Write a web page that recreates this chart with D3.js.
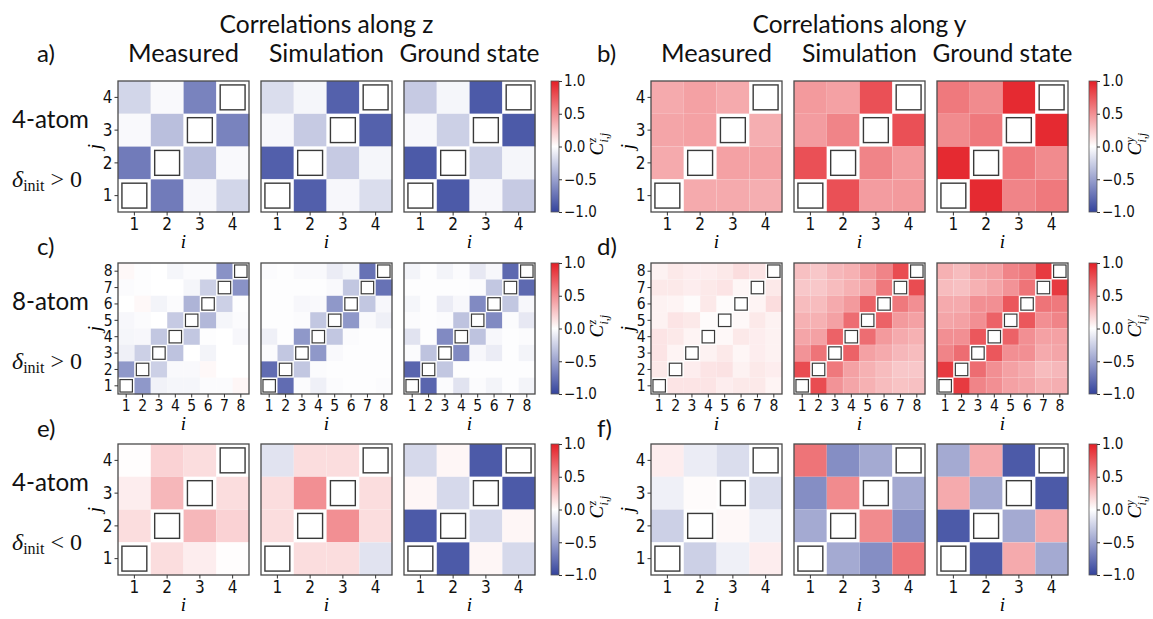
<!DOCTYPE html>
<html><head><meta charset="utf-8">
<script src="https://cdn.jsdelivr.net/npm/d3@7"></script>
<style>
body{margin:0;background:#fff;}
svg{display:block;}
</style></head>
<body>
<svg id="chart" width="1153" height="619"></svg>
<script>
// ---------------- DATA (rows listed from top j=N down to bottom j=1; columns i=1..N; null = diagonal) ----------------
const atomTicks4 = [1,2,3,4];
const atomTicks8 = [1,2,3,4,5,6,7,8];
const cbarTicks = [-1.0,-0.5,0.0,0.5,1.0];
const columnTitles = ["Measured","Simulation","Ground state"];
const groupTitles = ["Correlations along z","Correlations along y"];
const panelLetters = ["a)","b)","c)","d)","e)","f)"];
const rowLabels = ["4-atom","8-atom","4-atom"];
const deltaSigns = [">",">","<"];

// a) z, 4-atom, delta>0
const aMeasured = [
  [-0.22,-0.03,-0.66,null],
  [-0.03,-0.34,null,-0.66],
  [-0.70,null,-0.34,-0.03],
  [null,-0.70,-0.04,-0.22]];
const aSimulation = [
  [-0.18,-0.05,-0.84,null],
  [-0.04,-0.28,null,-0.84],
  [-0.85,null,-0.28,-0.05],
  [null,-0.85,-0.04,-0.18]];
const aGround = [
  [-0.28,-0.05,-0.88,null],
  [-0.04,-0.25,null,-0.88],
  [-0.88,null,-0.25,-0.05],
  [null,-0.88,-0.04,-0.28]];
// b) y, 4-atom, delta>0
const bMeasured = [
  [0.38,0.42,0.38,null],
  [0.40,0.42,null,0.36],
  [0.38,null,0.42,0.42],
  [null,0.38,0.38,0.36]];
const bSimulation = [
  [0.45,0.42,0.78,null],
  [0.44,0.55,null,0.78],
  [0.78,null,0.55,0.45],
  [null,0.78,0.44,0.45]];
const bGround = [
  [0.60,0.52,0.95,null],
  [0.52,0.60,null,0.95],
  [0.95,null,0.60,0.52],
  [null,0.95,0.55,0.60]];
// c) z, 8-atom, delta>0
const cMeasured = [
  [0.03,-0.01,0.00,-0.05,-0.02,-0.02,-0.58,null],
  [-0.02,-0.01,0.00,0.00,-0.05,-0.25,null,-0.58],
  [0.00,0.03,-0.06,-0.02,-0.40,null,-0.25,-0.01],
  [-0.04,-0.02,0.00,-0.28,null,-0.38,-0.05,-0.02],
  [-0.05,-0.04,-0.30,null,-0.30,-0.01,0.00,-0.04],
  [-0.08,-0.25,null,-0.32,0.00,-0.06,0.00,0.00],
  [-0.55,null,-0.25,-0.03,-0.03,0.03,0.00,0.00],
  [null,-0.55,-0.07,-0.05,-0.05,-0.02,-0.02,0.04]];
const cSimulation = [
  [-0.02,-0.01,-0.03,-0.03,-0.10,-0.05,-0.75,null],
  [-0.01,-0.01,-0.01,-0.01,-0.03,-0.30,null,-0.75],
  [-0.01,-0.01,-0.04,-0.03,-0.55,null,-0.30,-0.04],
  [-0.01,-0.01,-0.02,-0.30,null,-0.55,-0.03,-0.08],
  [-0.08,-0.01,-0.55,null,-0.30,-0.02,-0.01,-0.01],
  [-0.02,-0.30,null,-0.55,-0.03,-0.01,-0.01,-0.01],
  [-0.78,null,-0.30,-0.02,-0.01,-0.01,-0.01,-0.01],
  [null,-0.78,-0.02,-0.08,-0.02,-0.01,-0.01,-0.02]];
const cGround = [
  [-0.06,-0.01,-0.06,-0.02,-0.12,-0.04,-0.80,null],
  [-0.01,-0.01,-0.01,-0.01,-0.02,-0.30,null,-0.80],
  [-0.05,-0.01,-0.10,-0.04,-0.62,null,-0.30,-0.04],
  [-0.02,-0.01,-0.02,-0.32,null,-0.62,-0.02,-0.12],
  [-0.15,-0.01,-0.62,null,-0.32,-0.04,-0.01,-0.02],
  [-0.02,-0.32,null,-0.62,-0.04,-0.10,-0.01,-0.06],
  [-0.82,null,-0.30,-0.01,-0.01,-0.01,-0.01,-0.01],
  [null,-0.82,-0.02,-0.15,-0.02,-0.06,-0.01,-0.06]];
// d) y, 8-atom, delta>0
const dMeasured = [
  [0.06,0.10,0.08,0.08,0.10,0.15,0.12,null],
  [0.10,0.10,0.08,0.10,0.12,0.04,null,0.10],
  [0.06,0.05,0.02,0.10,0.02,null,0.05,0.15],
  [0.06,0.12,0.10,0.02,null,0.03,0.10,0.06],
  [0.12,0.10,0.05,null,0.03,0.10,0.08,0.06],
  [0.12,0.05,null,0.06,0.10,0.04,0.08,0.06],
  [0.10,null,0.08,0.12,0.13,0.06,0.10,0.08],
  [null,0.12,0.12,0.12,0.08,0.10,0.10,0.05]];
const dSimulation = [
  [0.28,0.25,0.32,0.35,0.45,0.55,0.80,null],
  [0.25,0.25,0.30,0.35,0.40,0.60,null,0.80],
  [0.30,0.30,0.38,0.45,0.70,null,0.60,0.50],
  [0.35,0.35,0.42,0.65,null,0.70,0.45,0.42],
  [0.40,0.42,0.70,null,0.65,0.45,0.38,0.35],
  [0.48,0.62,null,0.70,0.42,0.38,0.32,0.30],
  [0.80,null,0.60,0.42,0.35,0.30,0.25,0.25],
  [null,0.80,0.48,0.40,0.35,0.30,0.27,0.28]];
const dGround = [
  [0.35,0.30,0.40,0.42,0.55,0.60,0.88,null],
  [0.30,0.28,0.35,0.40,0.48,0.62,null,0.88],
  [0.38,0.38,0.50,0.50,0.75,null,0.62,0.60],
  [0.40,0.42,0.50,0.70,null,0.75,0.50,0.55],
  [0.50,0.50,0.75,null,0.70,0.50,0.42,0.42],
  [0.55,0.65,null,0.75,0.50,0.50,0.38,0.40],
  [0.88,null,0.65,0.50,0.42,0.38,0.30,0.32],
  [null,0.88,0.55,0.50,0.42,0.40,0.35,0.36]];
// e) z, 4-atom, delta<0
const eMeasured = [
  [0.01,0.20,0.15,null],
  [0.08,0.32,null,0.15],
  [0.15,null,0.32,0.20],
  [null,0.15,0.08,0.01]];
const eSimulation = [
  [-0.15,0.15,0.15,null],
  [0.15,0.50,null,0.15],
  [0.15,null,0.50,0.15],
  [null,0.15,0.15,-0.15]];
const eGround = [
  [-0.20,0.04,-0.88,null],
  [0.04,-0.20,null,-0.88],
  [-0.88,null,-0.20,0.04],
  [null,-0.88,0.04,-0.20]];
// f) y, 4-atom, delta<0
const fMeasured = [
  [0.08,-0.10,-0.18,null],
  [-0.08,0.02,null,-0.18],
  [-0.25,null,0.03,-0.08],
  [null,-0.25,-0.08,0.08]];
const fSimulation = [
  [0.62,-0.60,-0.45,null],
  [-0.60,0.52,null,-0.45],
  [-0.45,null,0.52,-0.60],
  [null,-0.45,-0.60,0.62]];
const fGround = [
  [-0.45,0.38,-0.88,null],
  [0.38,-0.45,null,-0.88],
  [-0.88,null,-0.45,0.38],
  [null,-0.88,0.38,-0.45]];

const panelMatrices = [
  [[aMeasured,aSimulation,aGround],[bMeasured,bSimulation,bGround]],
  [[cMeasured,cSimulation,cGround],[dMeasured,dSimulation,dGround]],
  [[eMeasured,eSimulation,eGround],[fMeasured,fSimulation,fGround]]];

// ---------------- LAYOUT ----------------
const S = 131;
const colX = [[118,261,404],[651,794,937]];
const rowY = [81,263,444];
const cbX = [551,1089];
const cbW = 8;
const tickFont = "'DejaVu Sans Condensed','DejaVu Sans',sans-serif";
const sansFont = "Lato,'Open Sans',sans-serif";
const mathFont = "'Liberation Serif','DejaVu Serif',serif";

const color = d3.scaleLinear().domain([-1,0,1]).range(["#34439c","#ffffff","#e41f26"]);

const svg = d3.select("#chart");
const defs = svg.append("defs");

function fit(sel, w){
  const n = sel.node();
  const fs = parseFloat(sel.attr("font-size"));
  const len = n.getComputedTextLength();
  sel.attr("font-size", (fs*w/len).toFixed(2));
}

function styleAxis(a, fs){
  a.attr("font-size", null).attr("font-family", null);
  a.select(".domain").remove();
  a.selectAll("line").attr("stroke","#333");
  a.selectAll("text").style("font-family",tickFont).style("font-size",fs+"px").attr("fill","#111");
}

function drawHeat(M, x0, y0, ticks, first){
  const N = M.length;
  const g = svg.append("g");
  const xs = d3.scaleBand().domain(ticks).range([x0, x0+S]);
  const ys = d3.scaleBand().domain(ticks).range([y0+S, y0]);
  const cells = [];
  M.forEach((row, r) => row.forEach((v, c) => cells.push({i: c+1, j: N-r, v})));
  g.selectAll("rect.cell").data(cells).join("rect")
    .attr("class","cell")
    .attr("x", d => xs(d.i)).attr("y", d => ys(d.j))
    .attr("width", xs.bandwidth()+0.3).attr("height", ys.bandwidth()+0.3)
    .attr("fill", d => d.v === null ? "#ffffff" : color(d.v));
  g.selectAll("rect.edge").data(cells).join("rect")
    .attr("class","edge")
    .attr("x", d => xs(d.i)).attr("y", d => ys(d.j))
    .attr("width", xs.bandwidth()).attr("height", ys.bandwidth())
    .attr("fill","none").attr("stroke","#ffffff").attr("stroke-opacity",0.18).attr("stroke-width",0.6);
  const inset = xs.bandwidth()*0.12;
  g.selectAll("rect.diag").data(cells.filter(d => d.v === null)).join("rect")
    .attr("class","diag")
    .attr("x", d => xs(d.i)+inset).attr("y", d => ys(d.j)+inset)
    .attr("width", xs.bandwidth()-2*inset).attr("height", ys.bandwidth()-2*inset)
    .attr("fill","#fff").attr("stroke","#3a3a3a").attr("stroke-width", N>4?1.2:1.4);
  g.append("rect").attr("x",x0).attr("y",y0).attr("width",S).attr("height",S)
    .attr("fill","none").attr("stroke","#4a4a4a").attr("stroke-width",1.3);
  const fs = N > 4 ? 15.5 : 17;
  const bx = g.append("g").attr("transform",`translate(0,${y0+S})`)
    .call(d3.axisBottom(xs).tickSize(3.5).tickPadding(2));
  styleAxis(bx, fs);
  g.append("text").attr("x",x0+S/2).attr("y",y0+S+36)
    .attr("text-anchor","middle").attr("font-family",mathFont).attr("font-style","italic")
    .attr("font-size",19).text("i");
  if(first){
    const ax = g.append("g").attr("transform",`translate(${x0},0)`)
      .call(d3.axisLeft(ys).tickSize(3.5).tickPadding(2));
    styleAxis(ax, fs);
    ax.selectAll("text").attr("dy","0.34em");
    g.append("text").attr("transform",`translate(${x0-17},${y0+S/2}) rotate(-90)`)
      .attr("text-anchor","middle").attr("font-family",mathFont).attr("font-style","italic")
      .attr("font-size",19).text("j");
  }
}

function drawColorbar(x0, y0, k, sup){
  const id = "cbgrad"+k;
  const grad = defs.append("linearGradient").attr("id",id)
    .attr("x1",0).attr("y1",1).attr("x2",0).attr("y2",0);
  d3.range(0,1.0001,0.05).forEach(t => grad.append("stop").attr("offset",t).attr("stop-color",color(-1+2*t)));
  const g = svg.append("g");
  g.append("rect").attr("x",x0).attr("y",y0).attr("width",cbW).attr("height",S)
    .attr("fill",`url(#${id})`).attr("stroke","#555").attr("stroke-width",0.8);
  const sc = d3.scaleLinear().domain([-1,1]).range([y0+S,y0]);
  const ax = g.append("g").attr("transform",`translate(${x0+cbW},0)`)
    .call(d3.axisRight(sc).tickValues(cbarTicks).tickFormat(d3.format(".1f")).tickSize(3).tickPadding(2));
  styleAxis(ax, 15);
  const lg = g.append("g").attr("transform",`translate(${x0+52},${y0+S/2}) rotate(-90)`);
  lg.append("text").attr("x",-9).attr("y",0).attr("font-family",mathFont).attr("font-style","italic")
    .attr("font-size",19).text("C");
  lg.append("text").attr("x",4).attr("y",-7).attr("font-family",mathFont).attr("font-style","italic")
    .attr("font-size",12).text(sup);
  lg.append("text").attr("x",4).attr("y",5).attr("font-family",mathFont).attr("font-style","italic")
    .attr("font-size",12).text("i,j");
}

// heatmaps
panelMatrices.forEach((row, r) => row.forEach((grp, gi) => grp.forEach((M, c) => {
  drawHeat(M, colX[gi][c], rowY[r], M.length === 8 ? atomTicks8 : atomTicks4, c === 0);
})));
// colorbars
rowY.forEach((y, r) => {
  drawColorbar(cbX[0], y, r*2, "z");
  drawColorbar(cbX[1], y, r*2+1, "y");
});

// group titles
groupTitles.forEach((t, gi) => {
  const tx = svg.append("text").attr("x", colX[gi][1]+S/2).attr("y",33)
    .attr("text-anchor","middle").attr("font-family",sansFont).attr("font-size",22).attr("fill","#111").text(t);
  fit(tx, 214);
});
// column titles
const titleW = [111,115,140];
[0,1].forEach(gi => columnTitles.forEach((t, c) => {
  const tx = svg.append("text").attr("x", colX[gi][c]+S/2).attr("y",62)
    .attr("text-anchor","middle").attr("font-family",sansFont).attr("font-size",24).attr("fill","#111").text(t);
  fit(tx, titleW[c]);
}));
// panel letters
const letterY = [62, 255, 437];
panelLetters.forEach((t, k) => {
  const r = Math.floor(k/2), gi = k%2;
  svg.append("text").attr("x", gi ? 597 : 37).attr("y", letterY[r])
    .attr("font-family",sansFont).attr("font-size",24).attr("fill","#111").text(t);
});
// row labels
rowY.forEach((y, r) => {
  const tx = svg.append("text").attr("x",12).attr("y",y+47)
    .attr("font-family",sansFont).attr("font-size",24).attr("fill","#111").text(rowLabels[r]);
  fit(tx, 77);
  const d = svg.append("text").attr("x",12).attr("y",y+106).attr("font-family",mathFont).attr("font-size",24).attr("fill","#111");
  d.append("tspan").attr("font-style","italic").text("δ");
  d.append("tspan").attr("font-size",16).attr("dy",4).text("init");
  d.append("tspan").attr("dy",-4).text(" " + deltaSigns[r] + " 0");
});
</script>
</body></html>
